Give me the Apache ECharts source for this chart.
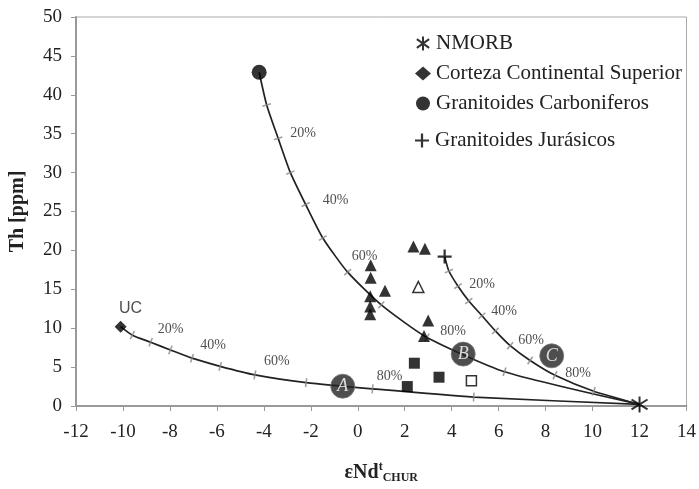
<!DOCTYPE html>
<html><head><meta charset="utf-8">
<script src="https://cdn.jsdelivr.net/npm/echarts@6/dist/echarts.min.js"></script>
<style>html,body{margin:0;padding:0;background:#fff}#c{width:699px;height:489px}</style>
</head><body><div id="c"></div>
<script>
// ---- data ----
const nmorb = [[12, 0.2]];
const uc = [[-10.1, 10.2]];
const carb = [[-4.2, 42.9]];
const jur = [[3.7, 19.2]];
const triFilled = [[0.55,18.1],[0.55,16.5],[0.53,14.1],[1.16,14.8],[0.53,12.8],[0.53,11.8],[2.37,20.5],[2.86,20.2],[3.0,11.0],[2.82,9.0]];
const triOpen = [[2.58,15.3]];
const sqFilled = [[2.41,5.5],[3.46,3.7],[2.11,2.5]];
const sqOpen = [[4.84,3.25]];
const curveA = [[-10.1,10.2],[-9.6,9.1],[-8.82,8.2],[-7.98,7.2],[-7.06,6.15],[-5.86,5.1],[-4.38,4.0],[-2.2,3.0],[0.63,2.2],[4.94,1.15],[12,0.2]];
const curveB = [[-4.2,42.9],[-3.88,38.7],[-3.39,34.4],[-2.87,30.0],[-2.22,25.9],[-1.49,21.6],[-0.43,17.2],[1.0,13.0],[2.95,8.8],[6.25,4.4],[12,0.2]];
const curveC = [[3.7,19.2],[3.88,17.35],[4.27,15.4],[4.73,13.5],[5.29,11.6],[5.86,9.65],[6.49,7.75],[7.34,5.85],[8.4,3.95],[10.05,1.9],[12,0.2]];
const pctLabels = ['20%','40%','60%','80%'];
const circleLetters = ['A','B','C'];
const circlePos = [[-0.64,2.55],[4.49,6.67],[8.26,6.45]];
const xMin = -12, xMax = 14, xStep = 2;
const yMin = 0, yMax = 50, yStep = 5;

const SERIF = '"Liberation Serif","Times New Roman",serif';
const chart = echarts.init(document.getElementById('c'), null, {renderer:'canvas'});

const asterisk = 'path://M5,0L5,10M0.6,1.9L9.4,8.1M0.6,8.1L9.4,1.9';
const plus = 'path://M4.2,0H5.8V4.2H10V5.8H5.8V10H4.2V5.8H0V4.2H4.2Z';

function base() {
  return {
    animation: false,
    backgroundColor: '#fff',
    grid: {left: 75, right: 10, top: 17, bottom: 82, show: true, borderColor: '#aaa', borderWidth: 1},
    xAxis: {
      type: 'value', min: xMin, max: xMax, interval: xStep,
      splitLine: {show: false},
      axisLine: {show: true, onZero: false, lineStyle: {color: '#999', width: 2}},
      axisTick: {show: true, length: 5, lineStyle: {color: '#999'}},
      axisLabel: {fontFamily: SERIF, fontSize: 19, color: '#222', margin: 17},
      name: '{a|εNd}{sup|t}{sub|CHUR}', nameLocation: 'middle', nameGap: 55,
      nameTextStyle: {fontFamily: SERIF, fontSize: 20, fontWeight: 'bold', color: '#222',
        rich: {
          a: {fontFamily: SERIF, fontSize: 20, fontWeight: 'bold', color: '#222'},
          sup: {fontFamily: SERIF, fontSize: 12, fontWeight: 'bold', color: '#222', padding: [0,0,12,0]},
          sub: {fontFamily: SERIF, fontSize: 12, fontWeight: 'bold', color: '#222', padding: [10,0,0,0]}
        }}
    },
    yAxis: {
      type: 'value', min: yMin, max: yMax, interval: yStep,
      splitLine: {show: false},
      axisLine: {show: true, onZero: false, lineStyle: {color: '#999', width: 2}},
      axisTick: {show: true, length: 5, lineStyle: {color: '#999'}},
      axisLabel: {fontFamily: SERIF, fontSize: 19, color: '#222', margin: 14},
      name: 'Th [ppm]', nameLocation: 'middle', nameGap: 48,
      nameTextStyle: {fontFamily: SERIF, fontSize: 20, fontWeight: 'bold', color: '#222'}
    },
    legend: [
      {orient: 'vertical', left: 410, top: 28, itemWidth: 16, itemHeight: 14, itemGap: 9,
       textStyle: {fontFamily: SERIF, fontSize: 21, color: '#222', lineHeight: 20},
       data: [
         {name: 'NMORB', icon: asterisk},
         {name: 'Corteza Continental Superior', icon: 'diamond'},
         {name: 'Granitoides Carboniferos', icon: 'circle'}
       ]},
      {orient: 'vertical', left: 410, top: 125, itemWidth: 16, itemHeight: 14,
       textStyle: {fontFamily: SERIF, fontSize: 21, color: '#222', lineHeight: 20},
       data: [{name: 'Granitoides Jurásicos', icon: plus}]}
    ],
    series: []
  };
}

function curveLine(name, data) {
  return {name: name, type: 'line', data: data, smooth: 0.2, showSymbol: false,
    symbol: 'none', lineStyle: {color: '#222', width: 1.7}, z: 2, silent: true};
}

chart.setOption(base());

function ticks(curve, offsets) {
  const out = [];
  for (let i = 1; i < curve.length - 1; i++) {
    const p0 = chart.convertToPixel({gridIndex: 0}, curve[i-1]);
    const p1 = chart.convertToPixel({gridIndex: 0}, curve[i+1]);
    const ang = Math.atan2(-(p1[1]-p0[1]), p1[0]-p0[0]) * 180 / Math.PI;
    const item = {value: curve[i], symbolRotate: ang};
    if (i % 2 === 0) {
      item.label = {show: true, position: 'inside', formatter: pctLabels[i/2-1], offset: offsets[i/2-1],
        fontFamily: SERIF, fontSize: 14, color: '#222'};
    }
    out.push(item);
  }
  return {type: 'scatter', data: out, symbol: 'rect', symbolSize: [1.6, 9],
    itemStyle: {color: '#888'}, z: 3, silent: true};
}

const opt = base();
opt.series = [
  curveLine('cA', curveA), curveLine('cB', curveB), curveLine('cC', curveC),
  ticks(curveA, [[20,-13],[21,-13],[22,-14],[17,-13]]),
  ticks(curveB, [[25,-5],[30,-4],[17,-16],[26,-6]]),
  ticks(curveC, [[24,-2],[22,-4],[21,-5],[23,-2]]),
  {type: 'scatter', data: circlePos.map((p, i) => ({value: p, label: {formatter: circleLetters[i]}})),
   symbol: 'circle', symbolSize: 24, itemStyle: {color: '#222', borderColor: '#777', borderWidth: 1}, z: 6,
   label: {show: true, position: 'inside', fontFamily: SERIF, fontStyle: 'italic', fontSize: 18, color: '#fff'}},
  {type: 'scatter', data: triFilled, symbol: 'triangle', symbolSize: 12, itemStyle: {color: '#000'}, z: 5},
  {type: 'scatter', data: triOpen, symbol: 'triangle', symbolSize: 11, itemStyle: {color: '#fff', borderColor: '#000', borderWidth: 1.5}, z: 5},
  {type: 'scatter', data: sqFilled, symbol: 'rect', symbolSize: 11, itemStyle: {color: '#000'}, z: 5},
  {type: 'scatter', data: sqOpen, symbol: 'rect', symbolSize: 10, itemStyle: {color: '#fff', borderColor: '#000', borderWidth: 1.5}, z: 5},
  {name: 'NMORB', type: 'scatter', data: nmorb, symbol: asterisk, symbolSize: 16,
   itemStyle: {color: '#000', borderColor: '#000', borderWidth: 2}, z: 7},
  {name: 'Corteza Continental Superior', type: 'scatter', data: uc, symbol: 'diamond', symbolSize: 12,
   itemStyle: {color: '#000'}, z: 7,
   label: {show: true, formatter: 'UC', position: 'top', distance: 4, offset: [10, 0],
     fontFamily: '"Liberation Sans",Arial,sans-serif', fontSize: 16, color: '#222'}},
  {name: 'Granitoides Carboniferos', type: 'scatter', data: carb, symbol: 'circle', symbolSize: 15,
   itemStyle: {color: '#000'}, z: 7},
  {name: 'Granitoides Jurásicos', type: 'scatter', data: jur, symbol: plus, symbolSize: 14,
   itemStyle: {color: '#000'}, z: 7}
];
chart.setOption(opt, true);
</script>
</body></html>
